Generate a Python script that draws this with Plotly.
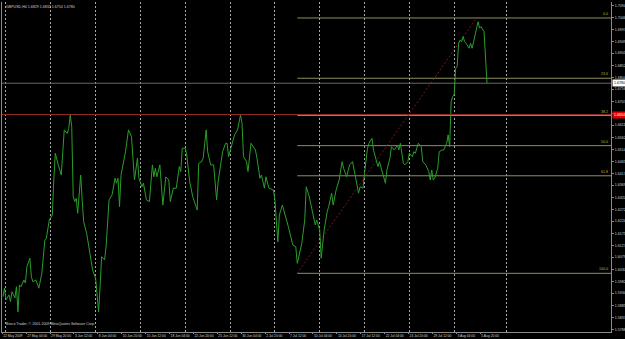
import plotly.graph_objects as go

# ---------------- data ----------------
symbol = "GBPUSD,H4"
header_ohl = [1.6829, 1.6832, 1.6754]
copyright_text = "Broco Trader, \u00a9 2001-2009 MetaQuotes Software Corp."

bars = [0, 1, 2, 4, 5, 6, 8, 9, 10, 11, 12, 14, 15, 16, 18, 19, 20, 22, 24, 26,
        28, 29, 31, 33, 34, 35, 37, 39, 41, 43, 44, 45, 46, 47, 48, 49, 50, 52, 53, 54,
        56, 58, 60, 62, 63, 64, 65, 66, 68, 69, 71, 73, 75, 76, 77, 78, 79, 82, 84, 86,
        88, 90, 91, 93, 94, 96, 98, 100, 101, 102, 103, 105, 107, 109, 111, 112, 114, 116, 118, 119,
        120, 122, 123, 125, 127, 130, 131, 133, 134, 136, 137, 139, 141, 143, 144, 146, 147, 149, 150, 151,
        153, 155, 157, 159, 160, 161, 163, 164, 166, 169, 170, 172, 173, 175, 176, 178, 181, 182, 184, 185,
        187, 189, 191, 194, 196, 197, 200, 202, 203, 205, 207, 209, 210, 212, 213, 215, 217, 218, 220, 221,
        223, 225, 227, 228, 230, 232, 234, 236, 238, 239, 241, 242, 244, 245, 247, 248, 250, 251, 252, 254,
        256, 257, 259, 260, 262, 264, 265, 266, 268, 269, 271, 272, 274, 275, 276, 278, 280, 281, 283, 285,
        286, 287, 288, 289, 291, 292, 294, 295, 297, 298, 299, 300, 301, 302, 303, 304, 305, 306, 307, 308,
        309, 310, 312, 313, 314, 315, 317, 318, 319, 320, 322, 323, 324]

closes = [1.5920, 1.5955, 1.5907, 1.5927, 1.5900, 1.5940, 1.5915, 1.5960, 1.5859, 1.5967,
          1.5960, 1.5987, 1.5975, 1.6041, 1.6075, 1.6000, 1.5980, 1.5987, 1.5954, 1.6014,
          1.6148, 1.6155, 1.6229, 1.6249, 1.6390, 1.6498, 1.6451, 1.6410, 1.6592, 1.6578,
          1.6598, 1.6652, 1.6605, 1.6323, 1.6303, 1.6316, 1.6256, 1.6410, 1.6310, 1.6222,
          1.6175, 1.6108, 1.6027, 1.5994, 1.5934, 1.5859, 1.5960, 1.6081, 1.6068, 1.6121,
          1.6310, 1.6330, 1.6397, 1.6377, 1.6397, 1.6283, 1.6410, 1.6504, 1.6592, 1.6565,
          1.6390, 1.6478, 1.6397, 1.6363, 1.6377, 1.6310, 1.6303, 1.6451, 1.6403, 1.6437,
          1.6403, 1.6451, 1.6289, 1.6403, 1.6390, 1.6303, 1.6357, 1.6357, 1.6444, 1.6424,
          1.6518, 1.6518, 1.6491, 1.6383, 1.6323, 1.6269, 1.6457, 1.6464, 1.6478, 1.6592,
          1.6504, 1.6451, 1.6451, 1.6310, 1.6383, 1.6457, 1.6504, 1.6538, 1.6538, 1.6484,
          1.6531, 1.6572, 1.6592, 1.6652, 1.6619, 1.6484, 1.6464, 1.6424, 1.6538, 1.6511,
          1.6478, 1.6397, 1.6410, 1.6357, 1.6403, 1.6357, 1.6350, 1.6310, 1.6141, 1.6249,
          1.6289, 1.6249, 1.6202, 1.6128, 1.6121, 1.6054, 1.6135, 1.6229, 1.6363, 1.6323,
          1.6269, 1.6209, 1.6229, 1.6189, 1.6075, 1.6189, 1.6262, 1.6283, 1.6337, 1.6289,
          1.6350, 1.6390, 1.6464, 1.6437, 1.6403, 1.6451, 1.6464, 1.6403, 1.6337, 1.6363,
          1.6357, 1.6417, 1.6518, 1.6538, 1.6558, 1.6511, 1.6471, 1.6444, 1.6464, 1.6417,
          1.6377, 1.6430, 1.6478, 1.6524, 1.6511, 1.6531, 1.6511, 1.6538, 1.6457, 1.6451,
          1.6464, 1.6498, 1.6484, 1.6504, 1.6498, 1.6538, 1.6524, 1.6464, 1.6451, 1.6424,
          1.6390, 1.6430, 1.6390, 1.6397, 1.6437, 1.6504, 1.6511, 1.6511, 1.6538, 1.6572,
          1.6524, 1.6706, 1.6726, 1.6733, 1.6840, 1.6847, 1.6941, 1.6954, 1.6947, 1.6968,
          1.6947, 1.6941, 1.6921, 1.6941, 1.6921, 1.6947, 1.6995, 1.7028, 1.7002, 1.7008,
          1.6988, 1.6901, 1.6780]

x_labels = ["22 May 2009", "27 May 04:00", "29 May 20:00", "3 Jun 12:00", "8 Jun 04:00",
            "10 Jun 20:00", "15 Jun 12:00", "18 Jun 04:00", "22 Jun 20:00", "25 Jun 12:00",
            "30 Jun 04:00", "2 Jul 20:00", "7 Jul 12:00", "10 Jul 04:00", "14 Jul 20:00",
            "17 Jul 12:00", "22 Jul 04:00", "24 Jul 20:00", "29 Jul 12:00", "3 Aug 04:00",
            "5 Aug 20:00"]
bars_per_label = 16
label_offset = -0.5

grid_bars = [2, 32, 62, 92, 122, 152, 182, 212, 242, 272, 302, 337]

y_labels = ["1.7094", "1.7046", "1.6997", "1.6949", "1.6901", "1.6852", "1.6804",
            "1.6756", "1.6707", "1.6659", "1.6611", "1.6562", "1.6514", "1.6465",
            "1.6417", "1.6369", "1.6320", "1.6272", "1.6224", "1.6175", "1.6127",
            "1.6079", "1.6030", "1.5982", "1.5934", "1.5885", "1.5837", "1.5788"]

fib_ratios = [0.0, 23.6, 38.2, 50.0, 61.8, 100.0]
fib_low_bar, fib_low = 197, 1.6014
fib_high_bar, fib_high = 317, 1.7043
hline_price = 1.6654

x_range = [-0.67, 407.0]
y_range = [1.57775, 1.71074]

# ---------------- styling ----------------
FONT = "Liberation Sans, Arial, sans-serif"
GREEN = "#2a9e2a"
FIB = "#8e8e60"
FIB_TXT = "#b8b83c"
RED = "#8e2a22"
AXIS = "#8a8a8a"
TXT = "#d0d0d0"

fig = go.Figure()

# fibonacci level rays
for r in fib_ratios:
    p = fib_high - r / 100.0 * (fib_high - fib_low)
    fig.add_trace(go.Scatter(x=[fib_low_bar, x_range[1]], y=[p, p], mode="lines",
                             line=dict(color=FIB, width=1), hoverinfo="skip"))
    fig.add_annotation(x=0.9985, xref="paper", y=p, yref="y", text=f"{r:.1f}",
                       showarrow=False, xanchor="right", yanchor="bottom",
                       font=dict(family=FONT, size=3.6, color=FIB_TXT))

# fibonacci trend line
fig.add_trace(go.Scatter(x=[fib_low_bar, fib_high_bar], y=[fib_low, fib_high], mode="lines",
                         line=dict(color="#7a1818", width=1, dash="2px,2px"), hoverinfo="skip"))

# horizontal red line and bid line
fig.add_shape(type="line", xref="paper", x0=0, x1=1, yref="y", y0=hline_price, y1=hline_price,
              line=dict(color=RED, width=1))
fig.add_shape(type="line", xref="paper", x0=0, x1=1, yref="y", y0=closes[-1], y1=closes[-1],
              line=dict(color="#666666", width=1))

# price line
fig.add_trace(go.Scatter(x=bars, y=closes, mode="lines",
                         line=dict(color=GREEN, width=1), hoverinfo="skip"))

# header and copyright
header = symbol + " " + " ".join(f"{v:.4f}" for v in header_ohl + [closes[-1]])
fig.add_annotation(x=0.003, xref="paper", y=0.998, yref="paper", text=header, showarrow=False,
                   xanchor="left", yanchor="top", font=dict(family=FONT, size=3.6, color=TXT))
fig.add_annotation(x=0.003, xref="paper", y=0.012, yref="paper", text=copyright_text,
                   showarrow=False, xanchor="left", yanchor="bottom",
                   font=dict(family=FONT, size=3.6, color=TXT))

# price boxes on axis
fig.add_annotation(x=1.002, xref="paper", y=closes[-1], yref="y", text=f"{closes[-1]:.4f}",
                   showarrow=False, xanchor="left", yanchor="middle", bgcolor="#ffffff",
                   borderpad=1, font=dict(family=FONT, size=3.6, color="#000000"))
fig.add_annotation(x=1.002, xref="paper", y=hline_price, yref="y", text=f"{hline_price:.4f}",
                   showarrow=False, xanchor="left", yanchor="middle", bgcolor="#e00000",
                   borderpad=1, font=dict(family=FONT, size=3.6, color="#ffffff"))

fig.update_layout(
    width=625, height=339,
    margin=dict(l=2, r=14, t=2, b=7),
    paper_bgcolor="#000000", plot_bgcolor="#000000",
    showlegend=False,
    template="none",
    xaxis=dict(range=x_range, automargin=False, showgrid=False, zeroline=False,
               tickmode="array",
               tickvals=[k * bars_per_label + label_offset for k in range(len(x_labels))],
               ticktext=x_labels, ticklabelposition="outside right", tickangle=0,
               ticks="outside", ticklen=1, tickcolor=AXIS, tickwidth=1,
               tickfont=dict(family=FONT, size=3.3, color=TXT),
               showline=True, linecolor=AXIS, linewidth=1,
               minor=dict(tickmode="array", tickvals=grid_bars, showgrid=True,
                          gridcolor="#a8a8a8", griddash="2px,2px", gridwidth=1, ticks="")),
    yaxis=dict(range=y_range, side="right", automargin=False, showgrid=False, zeroline=False,
               tickmode="array", tickvals=[float(s) for s in y_labels], ticktext=y_labels,
               ticks="outside", ticklen=2, tickcolor=AXIS, tickwidth=1,
               tickfont=dict(family=FONT, size=3.6, color=TXT),
               showline=True, linecolor=AXIS, linewidth=1, mirror=True),
)

fig.write_html("out.html")
